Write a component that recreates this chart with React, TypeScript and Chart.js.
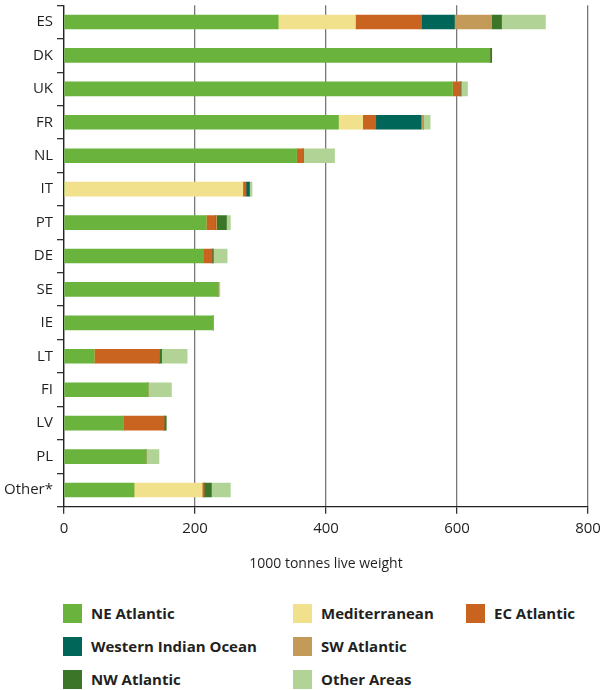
import React, { useEffect, useRef } from "react";
import Chart from "chart.js/auto";

const categories = ["ES", "DK", "UK", "FR", "NL", "IT", "PT", "DE", "SE", "IE", "LT", "FI", "LV", "PL", "Other*"];

const neAtlantic = [327, 650, 593, 419, 355, 0, 217, 212, 235, 228, 46, 128, 90, 125, 107];
const mediterranean = [118, 0, 0, 37, 0, 273, 0, 0, 0, 0, 0, 0, 0, 0, 104];
const ecAtlantic = [101, 0, 12, 20, 10, 5, 14, 14, 0, 0, 100, 0, 63, 0, 3];
const westernIndianOcean = [50, 0, 0, 69, 0, 5, 0, 0, 0, 0, 0, 0, 0, 0, 0];
const swAtlantic = [57, 0, 2, 4, 0, 0, 2, 0, 0, 0, 0, 0, 0, 0, 0];
const nwAtlantic = [15, 3, 0, 0, 0, 0, 15, 2, 0, 0, 3, 0, 3, 0, 11];
const otherAreas = [67, 0, 9, 10, 48, 4, 6, 21, 3, 0, 39, 36, 0, 20, 29];

const xTicks = [0, 200, 400, 600, 800];

const series = [
  { label: "NE Atlantic", data: neAtlantic, color: "#6ab43e" },
  { label: "Mediterranean", data: mediterranean, color: "#f1e08c" },
  { label: "EC Atlantic", data: ecAtlantic, color: "#c8641f" },
  { label: "Western Indian Ocean", data: westernIndianOcean, color: "#00665a" },
  { label: "SW Atlantic", data: swAtlantic, color: "#c49a58" },
  { label: "NW Atlantic", data: nwAtlantic, color: "#3b7527" },
  { label: "Other Areas", data: otherAreas, color: "#b1d396" },
];

// legend order as laid out in the figure (3 columns)
const legendCells = [
  { i: 0, left: 63, top: 604 },
  { i: 1, left: 293, top: 604 },
  { i: 2, left: 466, top: 604 },
  { i: 3, left: 63, top: 637 },
  { i: 4, left: 293, top: 637 },
  { i: 5, left: 63, top: 670 },
  { i: 6, left: 293, top: 670 },
];

const font = "'Open Sans', 'DejaVu Sans', sans-serif";

function App(): JSX.Element {
  const chartRef = useRef<HTMLCanvasElement | null>(null);
  const chartInstance = useRef<Chart<"bar"> | null>(null);

  useEffect(() => {
    document.body.style.margin = "0";
    if (!chartRef.current) return;
    if (chartInstance.current) chartInstance.current.destroy();
    const ctx = chartRef.current.getContext("2d");
    if (!ctx) return;

    chartInstance.current = new Chart(ctx, {
      type: "bar",
      data: {
        labels: categories,
        datasets: series.map((s) => ({
          label: s.label,
          data: s.data,
          backgroundColor: s.color,
          borderWidth: 0,
          barThickness: 14,
        })),
      },
      options: {
        indexAxis: "y",
        animation: false,
        responsive: false,
        maintainAspectRatio: false,
        layout: { padding: { left: 0, right: 15, top: 5.3, bottom: 0 } },
        plugins: {
          legend: { display: false },
          tooltip: { enabled: false },
        },
        scales: {
          x: {
            stacked: true,
            min: 0,
            max: 800,
            afterBuildTicks: (scale: any) => {
              scale.ticks = xTicks.map((v) => ({ value: v }));
            },
            afterFit: (scale: any) => {
              scale.height = 73.3;
              scale.paddingLeft = 0;
              scale.paddingRight = 0;
            },
            grid: {
              color: "#787878",
              lineWidth: 1.3,
              tickLength: 7,
              tickColor: "#333",
            },
            border: { display: true, color: "#222", width: 1.3 },
            ticks: {
              color: "#231f20",
              font: { family: font, size: 15 },
              padding: 6,
            },
            title: {
              display: true,
              text: "1000 tonnes live weight",
              color: "#231f20",
              font: { family: font, size: 14 },
              padding: { top: 0, bottom: 8 },
            },
          },
          y: {
            stacked: true,
            afterFit: (scale: any) => {
              scale.width = 64;
              scale.paddingTop = 0;
              scale.paddingBottom = 0;
            },
            grid: {
              drawOnChartArea: false,
              tickLength: 7,
              color: "#333",
              lineWidth: 1.3,
            },
            border: { display: true, color: "#222", width: 1.3 },
            ticks: {
              color: "#231f20",
              font: { family: font, size: 15 },
              padding: 4,
            },
          },
        },
      },
    });

    return () => {
      if (chartInstance.current) {
        chartInstance.current.destroy();
        chartInstance.current = null;
      }
    };
  }, []);

  return (
    <div style={{ position: "absolute", left: 0, top: 0, width: 603, height: 690, background: "#fff", fontFamily: font }}>
      <canvas ref={chartRef} width={603} height={580} style={{ display: "block" }}></canvas>
      {legendCells.map((c) => (
        <div key={c.i}>
          <div
            style={{
              position: "absolute",
              left: c.left,
              top: c.top,
              width: 19,
              height: 19,
              background: series[c.i].color,
            }}
          ></div>
          <div
            style={{
              position: "absolute",
              left: c.left + 28,
              top: c.top - 1,
              lineHeight: "21px",
              fontSize: 15,
              fontWeight: 700,
              color: "#231f20",
              whiteSpace: "nowrap",
            }}
          >
            {series[c.i].label}
          </div>
        </div>
      ))}
    </div>
  );
}

export default App;
